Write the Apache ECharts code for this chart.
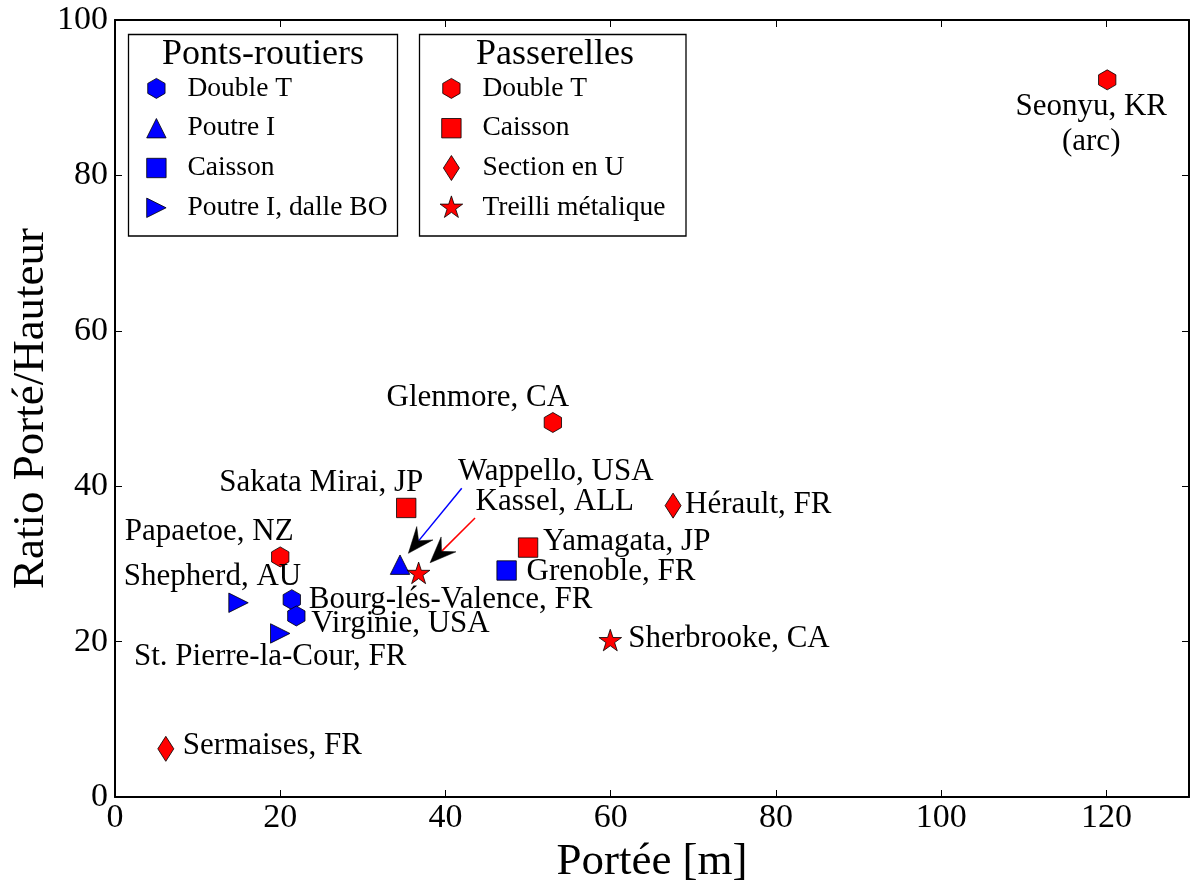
<!DOCTYPE html>
<html><head><meta charset="utf-8">
<script src="https://cdn.jsdelivr.net/npm/echarts@6/dist/echarts.min.js"></script>
<style>html,body{margin:0;padding:0;background:#fff}#c{width:1191px;height:881px}</style>
</head><body><div id="c"></div>
<script>
// ---- Data ----
const groupTitles = ['Ponts-routiers', 'Passerelles'];
const typeLabels = ['Double T', 'Poutre I', 'Caisson', 'Poutre I, dalle BO', 'Double T', 'Caisson', 'Section en U', 'Treilli métalique'];
const xTickValues = [0, 20, 40, 60, 80, 100, 120];
const yTickValues = [0, 20, 40, 60, 80, 100];

// Ponts-routiers
const prDoubleT_names = ['Bourg-lés-Valence, FR', 'Virginie, USA'];
const prDoubleT_x = [21.4, 21.95];
const prDoubleT_y = [25.4, 23.3];
const prPoutreI_names = ['Wappello, USA'];
const prPoutreI_x = [34.5];
const prPoutreI_y = [29.9];
const prCaisson_names = ['Grenoble, FR'];
const prCaisson_x = [47.4];
const prCaisson_y = [29.15];
const prPoutreBO_names = ['Shepherd, AU', 'St. Pierre-la-Cour, FR'];
const prPoutreBO_x = [14.95, 20.0];
const prPoutreBO_y = [25.0, 21.05];
// Passerelles
const paDoubleT_names = ['Seonyu, KR\n(arc)', 'Glenmore, CA', 'Papaetoe, NZ'];
const paDoubleT_x = [120.1, 53.0, 20.0];
const paDoubleT_y = [92.3, 48.2, 30.9];
const paCaisson_names = ['Sakata Mirai, JP', 'Yamagata, JP'];
const paCaisson_x = [35.25, 50.0];
const paCaisson_y = [37.2, 32.1];
const paSectionU_names = ['Hérault, FR', 'Sermaises, FR'];
const paSectionU_x = [67.55, 6.15];
const paSectionU_y = [37.5, 6.2];
const paTreilli_names = ['Kassel, ALL', 'Sherbrooke, CA'];
const paTreilli_x = [36.75, 59.95];
const paTreilli_y = [28.7, 20.05];

// Annotation arrows (data coordinates): [start, tip]
const arrowWappello = [[41.97, 39.73], [35.51, 31.36]];
const arrowKassel = [[43.58, 35.91], [38.14, 30.15]];

// ---- Styling ----
const FONT = '"Liberation Serif", "Times New Roman", serif';
const BLUE = '#0000ff', RED = '#ff0000';
const SHAPES = {
  hex: { p: 'M0,-10 L8.66,-5 L8.66,5 L0,10 L-8.66,5 L-8.66,-5 Z', s: [17.32, 20] },
  tri: { p: 'M0,-9.7 L9.7,9.7 L-9.7,9.7 Z', s: [19.4, 19.4] },
  sq: { p: 'M-9.7,-9.7 L9.7,-9.7 L9.7,9.7 L-9.7,9.7 Z', s: [19.4, 19.4] },
  rtri: { p: 'M9.7,0 L-9.7,9.7 L-9.7,-9.7 Z', s: [19.4, 19.4] },
  dia: { p: 'M0,-12.5 L8,0 L0,12.5 L-8,0 Z', s: [16, 25] },
  star: { p: 'M0,11.9 M0,-11.9 L2.674,-3.681 L11.318,-3.677 L4.327,1.406 L6.995,9.627 L0,4.55 L-6.995,9.627 L-4.327,1.406 L-11.318,-3.677 L-2.674,-3.681 Z', s: [22.64, 23.8] }
};
// label placement: [dx, dy, align]
const labelPlace = {
  'Seonyu, KR\n(arc)': [-16, 45, 'center'],
  'Glenmore, CA': [-75, -25, 'center'],
  'Papaetoe, NZ': [-71, -25, 'center'],
  'Sakata Mirai, JP': [-85, -25, 'center'],
  'Shepherd, AU': [-26, -26, 'center'],
  'St. Pierre-la-Cour, FR': [-10, 23, 'center'],
  'Bourg-lés-Valence, FR': [17, 0, 'left'],
  'Virginie, USA': [15, 8, 'left'],
  'Wappello, USA': [58, -93, 'left'],
  'Kassel, ALL': [57, -72, 'left'],
  'Grenoble, FR': [20, 1, 'left'],
  'Yamagata, JP': [15, -6, 'left'],
  'Hérault, FR': [12, -1, 'left'],
  'Sherbrooke, CA': [18, -2, 'left'],
  'Sermaises, FR': [17, -3, 'left']
};

const seriesDefs = [
  { id: 'PR|' + typeLabels[0], names: prDoubleT_names, xs: prDoubleT_x, ys: prDoubleT_y, color: BLUE, shape: 'hex' },
  { id: 'PR|' + typeLabels[1], names: prPoutreI_names, xs: prPoutreI_x, ys: prPoutreI_y, color: BLUE, shape: 'tri' },
  { id: 'PR|' + typeLabels[2], names: prCaisson_names, xs: prCaisson_x, ys: prCaisson_y, color: BLUE, shape: 'sq' },
  { id: 'PR|' + typeLabels[3], names: prPoutreBO_names, xs: prPoutreBO_x, ys: prPoutreBO_y, color: BLUE, shape: 'rtri' },
  { id: 'PA|' + typeLabels[4], names: paDoubleT_names, xs: paDoubleT_x, ys: paDoubleT_y, color: RED, shape: 'hex' },
  { id: 'PA|' + typeLabels[5], names: paCaisson_names, xs: paCaisson_x, ys: paCaisson_y, color: RED, shape: 'sq' },
  { id: 'PA|' + typeLabels[6], names: paSectionU_names, xs: paSectionU_x, ys: paSectionU_y, color: RED, shape: 'dia' },
  { id: 'PA|' + typeLabels[7], names: paTreilli_names, xs: paTreilli_x, ys: paTreilli_y, color: RED, shape: 'star' }
];

const series = seriesDefs.map(function (d) {
  const sh = SHAPES[d.shape];
  return {
    type: 'scatter', name: d.id, xAxisIndex: 0, yAxisIndex: 0,
    symbol: 'path://' + sh.p, symbolSize: sh.s,
    itemStyle: { color: d.color, borderColor: '#000', borderWidth: 0.8, opacity: 1 },
    emphasis: { disabled: true },
    z: 3,
    data: d.names.map(function (n, i) {
      const lp = labelPlace[n];
      return {
        name: n, value: [d.xs[i], d.ys[i]],
        label: {
          show: true, position: 'inside', offset: [lp[0], lp[1]], align: lp[2], verticalAlign: 'middle',
          formatter: '{b}', color: '#000', fontSize: 31, fontFamily: FONT, lineHeight: 35,
          textBorderWidth: 0
        }
      };
    })
  };
});

function legendData(prefix) {
  return seriesDefs.filter(d => d.id.indexOf(prefix) === 0).map(d => ({
    name: d.id, icon: 'path://M-14,-14 M26,14 ' + SHAPES[d.shape].p
  }));
}
const legendCommon = {
  orient: 'vertical', itemWidth: 40, itemHeight: 28, itemGap: 11, padding: 0, z: 10,
  selectedMode: false,
  formatter: n => n.split('|')[1],
  textStyle: { fontSize: 27.5, fontFamily: FONT, color: '#000' },
  itemStyle: { borderColor: '#000', borderWidth: 0.8 }
};

const axisLineStyle = { show: true, onZero: false, lineStyle: { color: '#000', width: 2 } };
const tickStyle = { show: true, inside: true, length: 7, lineStyle: { color: '#000', width: 1 } };

const baseGraphic = [
  { id: 'box1', type: 'rect', z: 5, shape: { x: 128.5, y: 34.5, width: 269, height: 201.5 },
    style: { fill: '#fff', stroke: '#000', lineWidth: 1.3 } },
  { id: 'title1', type: 'text', z: 6, x: 263, y: 55,
    style: { text: groupTitles[0], fontSize: 36, fontFamily: FONT, fill: '#000', align: 'center', verticalAlign: 'middle' } },
  { id: 'box2', type: 'rect', z: 5, shape: { x: 419.5, y: 34.5, width: 266.5, height: 201.5 },
    style: { fill: '#fff', stroke: '#000', lineWidth: 1.3 } },
  { id: 'title2', type: 'text', z: 6, x: 555, y: 55,
    style: { text: groupTitles[1], fontSize: 36, fontFamily: FONT, fill: '#000', align: 'center', verticalAlign: 'middle' } }
];

const option = {
  animation: false,
  backgroundColor: '#fff',
  grid: { left: 115, right: 2, top: 20, bottom: 84, containLabel: false, outerBoundsMode: 'none' },
  xAxis: [
    { type: 'value', position: 'bottom', min: 0, max: 130, interval: 20,
      axisLine: axisLineStyle, axisTick: tickStyle, splitLine: { show: false },
      axisLabel: { fontSize: 34, fontFamily: FONT, color: '#000', margin: 4,
        formatter: v => (xTickValues.indexOf(v) >= 0 ? String(v) : '') },
      name: 'Portée [m]', nameLocation: 'middle', nameGap: 38,
      nameTextStyle: { fontSize: 45, fontFamily: FONT, color: '#000' } },
    { type: 'value', position: 'top', min: 0, max: 130, interval: 20,
      axisLine: axisLineStyle, axisTick: tickStyle, splitLine: { show: false }, axisLabel: { show: false } }
  ],
  yAxis: [
    { type: 'value', position: 'left', min: 0, max: 100, interval: 20,
      axisLine: axisLineStyle, axisTick: tickStyle, splitLine: { show: false },
      axisLabel: { fontSize: 34, fontFamily: FONT, color: '#000', margin: 7,
        formatter: v => (yTickValues.indexOf(v) >= 0 ? String(v) : '') },
      name: 'Ratio Porté/Hauteur', nameLocation: 'middle', nameGap: 61, nameMoveOverlap: false,
      nameTextStyle: { fontSize: 45, fontFamily: FONT, color: '#000' } },
    { type: 'value', position: 'right', min: 0, max: 100, interval: 20,
      axisLine: axisLineStyle, axisTick: tickStyle, splitLine: { show: false }, axisLabel: { show: false } }
  ],
  legend: [
    Object.assign({}, legendCommon, { left: 142, top: 74, data: legendData('PR|') }),
    Object.assign({}, legendCommon, { left: 437, top: 74, data: legendData('PA|') })
  ],
  graphic: baseGraphic,
  series: series
};
const chart = echarts.init(document.getElementById('c'), null, { renderer: 'canvas' });
chart.setOption(option);

// Annotation arrows: shaft in colour, black barbed head, placed via the axis scales
function arrowGraphics(id, a, col) {
  const S = chart.convertToPixel({ gridIndex: 0 }, a[0]);
  const T = chart.convertToPixel({ gridIndex: 0 }, a[1]);
  const dx = T[0] - S[0], dy = T[1] - S[1];
  const len = Math.sqrt(dx * dx + dy * dy);
  const ux = dx / len, uy = dy / len, nx = -uy, ny = ux;
  const L = 26, W = 21;
  const N = [T[0] - 0.62 * L * ux, T[1] - 0.62 * L * uy];
  const B1 = [T[0] - L * ux + W / 2 * nx, T[1] - L * uy + W / 2 * ny];
  const B2 = [T[0] - L * ux - W / 2 * nx, T[1] - L * uy - W / 2 * ny];
  return [
    { id: id + 'shaft', type: 'line', z: 7, shape: { x1: S[0], y1: S[1], x2: N[0], y2: N[1] },
      style: { stroke: col, lineWidth: 1.5 } },
    { id: id + 'head', type: 'polygon', z: 8, shape: { points: [T, B1, N, B2] },
      style: { fill: '#000', stroke: '#000', lineWidth: 0.5 } }
  ];
}
chart.setOption({ graphic: baseGraphic.concat(arrowGraphics('aw', arrowWappello, BLUE), arrowGraphics('ak', arrowKassel, RED)) });
</script></body></html>
